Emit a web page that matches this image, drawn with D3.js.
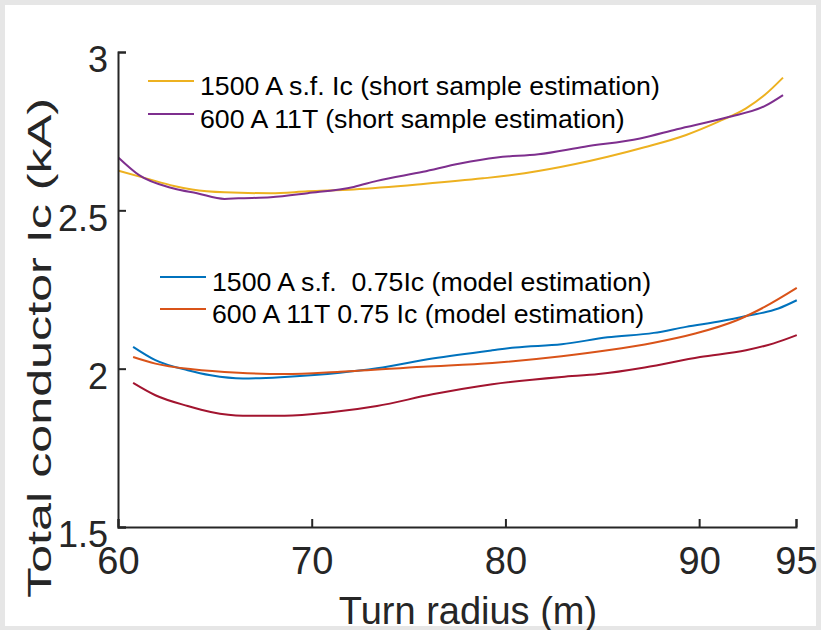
<!DOCTYPE html>
<html>
<head>
<meta charset="utf-8">
<script src="https://cdn.jsdelivr.net/npm/d3@7"></script>
<style>
  body { margin: 0; background: #e6e6e6; }
  text { font-family: "Liberation Sans", Arial, sans-serif; fill: #262626; }
</style>
</head>
<body>
<div id="chart"></div>
<script>
// Chart area size
var svgWidth = 821;
var svgHeight = 630;

// Plot box in pixels
var margin = { top: 52, right: 25, bottom: 103, left: 118 };
var width = svgWidth - margin.left - margin.right;
var height = svgHeight - margin.top - margin.bottom;

// Tick values
var xTicks = [60, 70, 80, 90, 95];
var yTicks = [1.5, 2, 2.5, 3];

// Upper pair (short sample estimation)
var sfShortRadius = [60.03, 61.45, 62.89, 63.82, 65.5, 67.88, 69.79, 72.17, 75.75, 78.84, 80.99, 83.61, 85.28, 87.18, 89.33, 91.0, 92.42, 93.38, 94.33];
var sfShortIc = [2.625, 2.601, 2.577, 2.566, 2.557, 2.554, 2.56, 2.566, 2.583, 2.601, 2.617, 2.646, 2.669, 2.699, 2.738, 2.78, 2.822, 2.864, 2.919];

var t11ShortRadius = [60.03, 61.09, 62.88, 64.08, 65.5, 66.22, 67.88, 69.79, 72.17, 73.37, 75.75, 77.66, 79.56, 81.7, 84.09, 86.95, 88.85, 91.47, 93.38, 94.33];
var t11ShortIc = [2.666, 2.611, 2.569, 2.554, 2.536, 2.538, 2.541, 2.554, 2.574, 2.593, 2.622, 2.648, 2.667, 2.677, 2.701, 2.727, 2.756, 2.794, 2.829, 2.864];

// Lower group (model estimation)
var lowerRadius = [60.78, 61.93, 63.6, 64.79, 66.45, 68.6, 71.46, 73.37, 76.23, 79.32, 80.51, 82.9, 85.27, 87.66, 89.32, 91.23, 92.42, 94.09, 95.04];
var sfModelIc = [2.069, 2.027, 1.995, 1.979, 1.969, 1.974, 1.987, 2.001, 2.032, 2.058, 2.067, 2.077, 2.099, 2.113, 2.132, 2.151, 2.166, 2.19, 2.216];

var t11ModelRadius = [60.78, 61.93, 63.84, 66.22, 68.6, 71.46, 75.75, 79.32, 82.9, 85.27, 87.66, 89.8, 91.95, 93.38, 95.04];
var t11ModelIc = [2.037, 2.016, 1.998, 1.987, 1.983, 1.99, 2.006, 2.018, 2.039, 2.058, 2.082, 2.111, 2.153, 2.195, 2.255];

var redRadius = [60.78, 61.93, 63.6, 64.79, 66.45, 68.6, 70.99, 73.37, 76.23, 79.32, 82.9, 84.81, 87.19, 90.05, 92.42, 93.85, 95.04];
var redIc = [1.955, 1.916, 1.882, 1.863, 1.851, 1.851, 1.862, 1.882, 1.919, 1.951, 1.974, 1.983, 2.004, 2.037, 2.058, 2.08, 2.106];

// Legend labels
var legendTop = ["1500 A s.f. Ic (short sample estimation)", "600 A 11T (short sample estimation)"];
var legendBottom = ["1500 A s.f.  0.75Ic (model estimation)", "600 A 11T 0.75 Ic (model estimation)"];

var series = [
  { x: sfShortRadius, y: sfShortIc, color: "#EDB120" },
  { x: t11ShortRadius, y: t11ShortIc, color: "#7E2F8E" },
  { x: lowerRadius, y: sfModelIc, color: "#0072BD" },
  { x: t11ModelRadius, y: t11ModelIc, color: "#D95319" },
  { x: redRadius, y: redIc, color: "#A2142F" }
];

var svg = d3.select("#chart")
  .append("svg")
  .attr("width", svgWidth)
  .attr("height", svgHeight);

// white paper with grey frame
svg.append("rect")
  .attr("x", 5).attr("y", 5)
  .attr("width", 811).attr("height", 621)
  .attr("fill", "#ffffff");

var chartGroup = svg.append("g")
  .attr("transform", `translate(${margin.left}, ${margin.top})`);

var xScale = d3.scaleLinear().domain([60, 95]).range([0, width]);
var yScale = d3.scaleLinear().domain([1.5, 3]).range([height, 0]);

var line = d3.line()
  .x(d => xScale(d[0]))
  .y(d => yScale(d[1]))
  .curve(d3.curveMonotoneX);

series.forEach(function(s) {
  chartGroup.append("path")
    .datum(d3.zip(s.x, s.y))
    .attr("d", line)
    .attr("fill", "none")
    .attr("stroke", s.color)
    .attr("stroke-width", 2);
});

// axes (MATLAB style, ticks inward)
var leftAxis = d3.axisLeft(yScale)
  .tickValues(yTicks)
  .tickSize(-8)
  .tickPadding(10)
  .tickFormat(d3.format("~g"));

var bottomAxis = d3.axisBottom(xScale)
  .tickValues(xTicks)
  .tickSize(-8)
  .tickPadding(20)
  .tickFormat(d3.format("d"));

var yAxisG = chartGroup.append("g").call(leftAxis);
var xAxisG = chartGroup.append("g")
  .attr("transform", `translate(0,${height})`)
  .call(bottomAxis);

[yAxisG, xAxisG].forEach(function(g) {
  g.select(".domain").attr("stroke", "#262626").attr("stroke-width", 2);
  g.selectAll(".tick line").attr("stroke", "#262626").attr("stroke-width", 2);
});

yAxisG.selectAll(".tick text")
  .attr("font-size", 36)
  .attr("font-family", "Liberation Sans, Arial, sans-serif")
  .attr("fill", "#262626")
  .attr("dy", "0.55em");

xAxisG.selectAll(".tick text")
  .attr("font-size", 38)
  .attr("font-family", "Liberation Sans, Arial, sans-serif")
  .attr("fill", "#262626")
  .attr("dy", "0.71em");

// axis titles
svg.append("text")
  .attr("x", 468)
  .attr("y", 624)
  .attr("text-anchor", "middle")
  .attr("font-size", 38)
  .text("Turn radius (m)");

svg.append("text")
  .attr("transform", "translate(51,348) rotate(-90)")
  .attr("text-anchor", "middle")
  .attr("font-size", 34)
  .attr("textLength", 500)
  .attr("lengthAdjust", "spacingAndGlyphs")
  .text("Total conductor Ic (kA)");

// legends
function drawLegend(labels, colors, x0, y0, gap) {
  labels.forEach(function(label, i) {
    var base = y0 + i * gap;
    svg.append("line")
      .attr("x1", x0).attr("x2", x0 + 46)
      .attr("y1", base - 14).attr("y2", base - 14)
      .attr("stroke", colors[i])
      .attr("stroke-width", 2);
    svg.append("text")
      .attr("x", x0 + 52)
      .attr("y", base)
      .attr("font-size", 26.7)
      .style("fill", "#000")
      .style("white-space", "pre")
      .text(label);
  });
}

drawLegend(legendTop, ["#EDB120", "#7E2F8E"], 148, 95, 33);
drawLegend(legendBottom, ["#0072BD", "#D95319"], 160, 291, 32);
</script>
</body>
</html>
